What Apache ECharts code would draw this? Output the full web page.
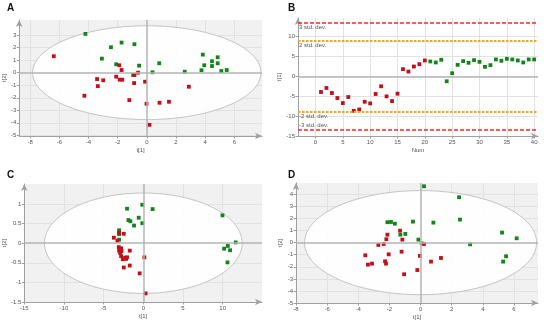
<!DOCTYPE html>
<html>
<head>
<meta charset="utf-8">
<script src="https://cdn.jsdelivr.net/npm/echarts@6/dist/echarts.min.js"></script>
<style>html,body{margin:0;padding:0;background:#fff}#c{width:550px;height:324px}</style>
</head>
<body>
<div id="c"></div>
<script>
// ---------- DATA ----------
// Panel A (score plot)
const aGreen = [[-4.21,3.09],[-1.73,2.40],[-0.85,2.27],[-2.46,2.03],[-3.08,1.12],[-2.10,0.67],[-0.53,0.56],[0.85,0.75],[0.39,0.03],[-0.94,-0.19],[2.60,0.08],[3.84,1.44],[3.94,0.59],[3.75,0.19],[4.47,0.91],[4.47,0.53],[4.86,1.23],[4.86,0.75],[5.11,0.13],[5.48,0.21]];
const aRed = [[-6.38,1.31],[-1.89,0.59],[-1.73,0.21],[-2.10,-0.32],[-1.86,-0.56],[-1.68,-0.56],[-3.41,-0.51],[-2.99,-0.61],[-3.36,-1.07],[-0.85,-0.19],[-0.60,0.00],[-0.12,-0.72],[-0.87,-0.83],[-4.28,-1.84],[-1.20,-2.19],[-0.02,-2.48],[0.87,-2.40],[1.52,-2.32],[2.88,-1.12],[0.18,-4.16]];
const aEllipse = [7.83, 3.74];
const aXTicks = [-8,-6,-4,-2,0,2,4,6];
const aYTicks = [-5,-4,-3,-2,-1,0,1,2,3];

// Panel B (t[1] vs Num)
const bNumRed = [1,2,3,4,5,6,7,8,9,10,11,12,13,14,15,16,17,18,19,20];
const bRed = [-3.93,-2.91,-4.18,-5.45,-6.71,-5.19,-8.66,-8.32,-6.38,-6.80,-4.43,-2.49,-5.03,-6.21,-4.35,1.82,1.22,2.49,3.08,4.01];
const bNumGreen = [21,22,23,24,25,26,27,28,29,30,31,32,33,34,35,36,37,38,39,40];
const bGreen = [3.76,3.51,4.18,-1.22,0.80,2.91,3.84,3.42,4.10,3.67,2.41,2.83,4.27,3.93,4.43,4.27,4.01,3.51,4.27,4.27];
const bStd = [13.4, 8.95, -8.95, -13.4];
const bStdLabels = ['3 std. dev.', '2 std. dev.', '-2 std. dev.', '-3 std. dev.'];
const bXTicks = [0,5,10,15,20,25,30,35,40];
const bYTicks = [-15,-10,-5,0,5,10];

// Panel C
const cGreen = [[-2.05,0.88],[-0.13,0.98],[1.17,0.87],[-0.58,0.65],[-1.88,0.59],[-1.63,0.56],[-1.17,0.45],[-0.13,0.51],[-3.05,0.33],[-3.05,0.26],[-3.05,0.23],[-3.05,0.09],[9.97,0.71],[11.64,0.02],[10.64,-0.07],[10.18,-0.14],[10.93,-0.18],[10.60,-0.49]];
const cRed = [[-3.71,0.14],[-3.26,0.06],[-2.46,0.24],[-3.05,0.27],[-3.09,-0.10],[-3.05,-0.19],[-2.80,-0.13],[-2.75,-0.20],[-1.71,-0.19],[-2.80,-0.33],[-2.59,-0.41],[-2.30,-0.37],[-2.05,-0.36],[-2.17,-0.40],[-2.46,-0.62],[-1.71,-0.57],[0.13,-0.36],[-0.46,-0.77],[0.29,-1.28],[-2.92,-0.25]];
const cEllipse = [12.45, 1.28];
const cXTicks = [-15,-10,-5,0,5,10];
const cYTicks = [-1.5,-1,-0.5,0,0.5,1];

// Panel D
const dGreen = [[0.22,4.67],[2.47,3.76],[2.53,1.91],[0.82,1.66],[-0.49,1.74],[-1.65,1.57],[-1.90,1.71],[-2.13,1.69],[-0.98,0.72],[-1.30,0.66],[-0.14,0.25],[0.07,-0.06],[3.18,-0.14],[5.23,0.83],[6.17,0.36],[5.49,-1.13],[5.30,-1.57],[7.61,-2.60]];
const dRed = [[-1.32,0.99],[-2.13,0.66],[-1.17,0.25],[-2.20,0.28],[-2.37,-0.11],[-2.71,-0.19],[0.22,-0.11],[-3.55,-1.05],[-2.05,-0.97],[-1.22,-0.75],[-0.04,-1.10],[1.31,-1.27],[0.67,-1.57],[-2.28,-1.55],[-2.22,-1.74],[-3.38,-1.82],[-3.12,-1.74],[-0.21,-2.27],[-1.06,-2.62]];
const dEllipse = [7.45, 4.31];
const dXTicks = [-8,-6,-4,-2,0,2,4,6];
const dYTicks = [-5,-4,-3,-2,-1,0,1,2,3,4];

// ---------- STYLE ----------
const GREEN = '#12841a', RED = '#c20f19';
const FONT = 'Liberation Sans';
const chart = echarts.init(document.getElementById('c'), null, {renderer:'canvas'});

function axis(gridIndex, min, max, ticks, name, nameGap) {
  return {
    type:'value', gridIndex, min, max,
    axisLine:{show:true, onZero:false, lineStyle:{color:'#a0a0a0', width:1}, symbol:['none','arrow'], symbolSize:[5,7]},
    axisTick:{show:true, length:2.5, customValues:ticks, lineStyle:{color:'#a0a0a0'}},
    axisLabel:{customValues:ticks, fontSize:6, color:'#555', margin:3, fontFamily:FONT},
    splitLine:{show:true, lineStyle:{color:'#e2e2e2', width:1}},
    name, nameLocation:'middle', nameGap,
    nameTextStyle:{fontSize:6, color:'#555', fontFamily:FONT}
  };
}

function ellipseSeries(idx, semi) {
  return {
    type:'custom', xAxisIndex:idx, yAxisIndex:idx, data:[[0,0]], silent:true, clip:false,
    renderItem: function(params, api) {
      const c = api.coord([0,0]);
      const s = api.size([semi[0], semi[1]]);
      const pts = [];
      for (let i = 0; i <= 160; i++) {
        const t = i / 160 * Math.PI * 2;
        pts.push([c[0] + s[0]*Math.cos(t), c[1] + s[1]*Math.sin(t)]);
      }
      return {type:'polygon', shape:{points:pts}, style:{fill:'rgba(255,255,255,0.9)', stroke:'#c4c4c4', lineWidth:1}};
    },
    markLine: zeroLines(true)
  };
}

function zeroLines(both) {
  const data = both ? [{xAxis:0},{yAxis:0}] : [{yAxis:0}];
  return {silent:true, symbol:'none', label:{show:false}, animation:false,
    lineStyle:{color:'#b4b4b4', width:1.5, type:'solid', opacity:1}, data};
}

function scatter(idx, data, color) {
  return {type:'scatter', xAxisIndex:idx, yAxisIndex:idx, data, symbol:'rect', symbolSize:3.8,
    itemStyle:{color, opacity:1}, silent:true};
}

const stdColors = ['#f02828', '#f5a524', '#f5a524', '#f02828'];
const stdWidths = [1.5, 1.8, 1.8, 1.5];
const stdDash = [[4,2],[2.5,1.5],[2.5,1.5],[4,2]];
const stdPos = ['insideStartBottom','insideStartBottom','insideStartBottom','insideStartTop'];

const option = {
  animation:false,
  textStyle:{fontFamily:FONT},
  grid:[
    {left:19, top:20, width:243, height:116, show:true, backgroundColor:'#f1f1f1', borderWidth:0},
    {left:298, top:18, width:240, height:118, show:true, backgroundColor:'#ffffff', borderWidth:0},
    {left:22, top:184, width:240, height:118, show:true, backgroundColor:'#f1f1f1', borderWidth:0},
    {left:296, top:183, width:242, height:120, show:true, backgroundColor:'#f1f1f1', borderWidth:0}
  ],
  xAxis:[
    axis(0, -8.75, 7.9, aXTicks, 't[1]', 11),
    axis(1, -3.2, 40.7, bXTicks, 'Num', 11),
    axis(2, -15, 14.95, cXTicks, 't[1]', 11),
    axis(3, -8, 7.54, dXTicks, 't[1]', 11)
  ],
  yAxis:[
    axis(0, -5.05, 4.2, aYTicks, 't[2]', 7),
    axis(1, -15, 14.7, bYTicks, 't[1]', 5),
    axis(2, -1.5, 1.51, cYTicks, 't[2]', 15),
    axis(3, -5, 4.94, dYTicks, 't[2]', 5)
  ],
  graphic:[
    {type:'text', left:7, top:3, style:{text:'A', font:'bold 10px "Liberation Sans"', fill:'#111'}},
    {type:'text', left:288, top:3, style:{text:'B', font:'bold 10px "Liberation Sans"', fill:'#111'}},
    {type:'text', left:7, top:170, style:{text:'C', font:'bold 10px "Liberation Sans"', fill:'#111'}},
    {type:'text', left:288, top:170, style:{text:'D', font:'bold 10px "Liberation Sans"', fill:'#111'}}
  ],
  series:[
    ellipseSeries(0, aEllipse),
    scatter(0, aGreen, GREEN),
    scatter(0, aRed, RED),

    Object.assign(scatter(1, bNumRed.map((n,i)=>[n, bRed[i]]), RED), {markLine: zeroLines(false)}),
    Object.assign(scatter(1, bNumGreen.map((n,i)=>[n, bGreen[i]]), GREEN), {
      markLine:{silent:true, symbol:'none', animation:false,
        data: bStd.map((v,i)=>({
          yAxis:v,
          lineStyle:{color:stdColors[i], width:stdWidths[i], type:stdDash[i], opacity:1},
          label:{show:true, formatter:bStdLabels[i], position:stdPos[i], distance:[1,1.5],
                 fontSize:6, color:'#555', fontFamily:FONT}
        }))
      }
    }),

    ellipseSeries(2, cEllipse),
    scatter(2, cGreen, GREEN),
    scatter(2, cRed, RED),

    ellipseSeries(3, dEllipse),
    scatter(3, dGreen, GREEN),
    scatter(3, dRed, RED)
  ]
};
chart.setOption(option);
</script>
</body>
</html>
